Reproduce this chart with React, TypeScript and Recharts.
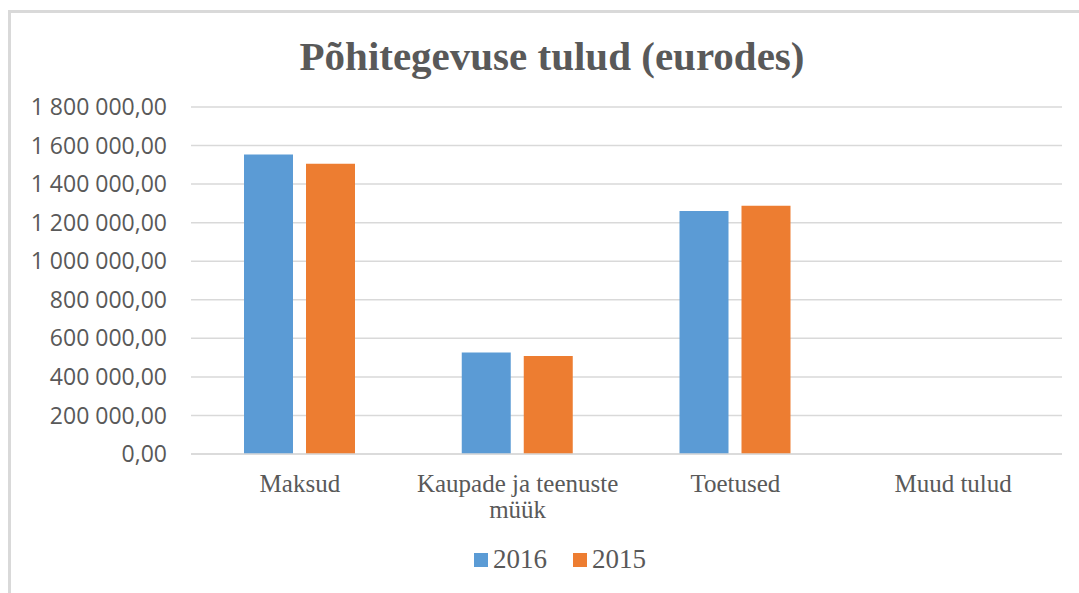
import { BarChart, Bar, XAxis, YAxis, CartesianGrid } from 'recharts';

const categories = ['Maksud', 'Kaupade ja teenuste müük', 'Toetused', 'Muud tulud'];
const values2016 = [1553000, 526000, 1261000, 0];
const values2015 = [1506000, 508000, 1288000, 0];
const yTicks = [0, 200000, 400000, 600000, 800000, 1000000, 1200000, 1400000, 1600000, 1800000];

const chartData = categories.map((name, i) => ({
  name,
  y2016: values2016[i],
  y2015: values2015[i]
}));

const formatValue = (value: number) => {
  const whole = Math.round(value).toString().replace(/\B(?=(\d{3})+(?!\d))/g, ' ');
  return `${whole},00`;
};

const CategoryTick = (props: any) => {
  const { x, y, payload } = props;
  const label: string = payload.value;
  const lines = label === 'Kaupade ja teenuste müük' ? ['Kaupade ja teenuste', 'müük'] : [label];
  return (
    <text
      x={x}
      y={y + 30}
      textAnchor="middle"
      fill="#595959"
      style={{ fontFamily: '"Liberation Serif", serif', fontSize: 25 }}
    >
      {lines.map((line, i) => (
        <tspan key={line} x={x} dy={i === 0 ? 0 : 26}>
          {line}
        </tspan>
      ))}
    </text>
  );
};

const legendItems = [
  { label: '2016', color: '#5B9BD5' },
  { label: '2015', color: '#ED7D31' }
];

export default function App() {
  return (
    <div style={{ position: 'fixed', left: 0, top: 0, width: 1079, height: 593, background: '#fff', overflow: 'hidden' }}>
      <div
        style={{
          position: 'absolute',
          left: 8,
          top: 10,
          right: -5,
          bottom: -5,
          borderLeft: '3px solid #d9d9d9',
          borderTop: '3px solid #d9d9d9'
        }}
      />
      <div
        style={{
          position: 'absolute',
          left: 0,
          width: 1104,
          top: 32,
          textAlign: 'center',
          fontFamily: '"Liberation Serif", serif',
          fontWeight: 'bold',
          fontSize: 41,
          color: '#595959'
        }}
      >
        Põhitegevuse tulud (eurodes)
      </div>
      <div style={{ position: 'absolute', left: 0, top: 0 }}>
        <BarChart
          width={1079}
          height={593}
          data={chartData}
          margin={{ top: 107, right: 17, bottom: 109, left: 0 }}
          barSize={49}
          barGap={13}
        >
          <CartesianGrid vertical={false} stroke="#d9d9d9" strokeWidth={1.5} />
          <XAxis
            dataKey="name"
            height={30}
            tick={<CategoryTick />}
            tickLine={false}
            axisLine={{ stroke: '#d9d9d9', strokeWidth: 1.5 }}
            interval={0}
          />
          <YAxis
            width={191}
            domain={[0, 1800000]}
            ticks={yTicks}
            tickFormatter={formatValue}
            axisLine={false}
            tickLine={false}
            tickMargin={18}
            tick={{ fill: '#595959', fontSize: 23, fontFamily: '"Open Sans", sans-serif' }}
          />
          <Bar dataKey="y2016" name="2016" fill="#5B9BD5" isAnimationActive={false} />
          <Bar dataKey="y2015" name="2015" fill="#ED7D31" isAnimationActive={false} />
        </BarChart>
      </div>
      <div
        style={{
          position: 'absolute',
          left: 0,
          width: 1120,
          top: 544,
          display: 'flex',
          justifyContent: 'center',
          gap: 26,
          fontFamily: '"Liberation Serif", serif',
          fontSize: 27,
          color: '#595959'
        }}
      >
        {legendItems.map(item => (
          <div key={item.label} style={{ display: 'flex', alignItems: 'center' }}>
            <span style={{ width: 14, height: 14, background: item.color, display: 'inline-block', marginRight: 5 }} />
            <span>{item.label}</span>
          </div>
        ))}
      </div>
    </div>
  );
}
